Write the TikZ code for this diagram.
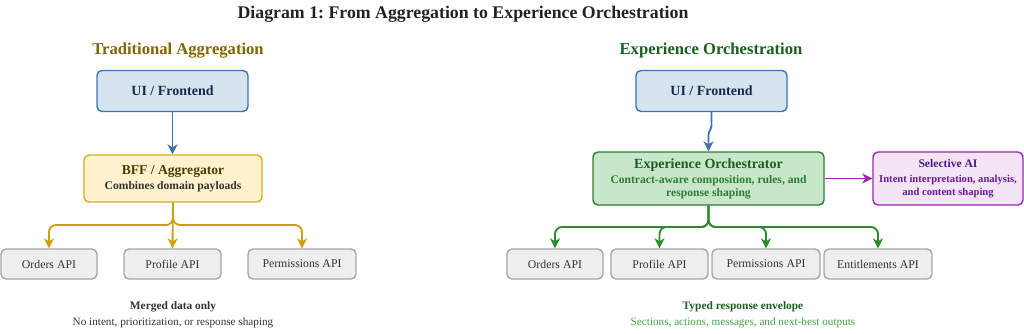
\documentclass[tikz,border=0pt]{standalone}
\usepackage{fontspec}
\setmainfont{Liberation Serif}
\usepackage{xcolor}
\usepackage{tikz}
\usetikzlibrary{arrows.meta, positioning, calc}
\definecolor{TitleInk}{RGB}{34, 34, 34}
\definecolor{OliveInk}{RGB}{128, 102, 0}
\definecolor{ForestInk}{RGB}{27, 94, 32}
\definecolor{LeafInk}{RGB}{46, 125, 50}
\definecolor{LightLeaf}{RGB}{67, 160, 71}
\definecolor{NavyInk}{RGB}{26, 42, 74}
\definecolor{UiFill}{RGB}{214, 228, 240}
\definecolor{UiLine}{RGB}{61, 115, 176}
\definecolor{BffFill}{RGB}{255, 242, 204}
\definecolor{BffLine}{RGB}{214, 174, 30}
\definecolor{BffInk}{RGB}{77, 59, 0}
\definecolor{GoldLine}{RGB}{201, 162, 15}
\definecolor{ApiFill}{RGB}{239, 239, 239}
\definecolor{ApiLine}{RGB}{166, 166, 166}
\definecolor{BodyInk}{RGB}{51, 51, 51}
\definecolor{OrchFill}{RGB}{200, 230, 201}
\definecolor{OrchLine}{RGB}{46, 125, 50}
\definecolor{GreenLine}{RGB}{47, 138, 47}
\definecolor{AiFill}{RGB}{243, 229, 245}
\definecolor{AiLine}{RGB}{156, 39, 176}
\definecolor{AiDeep}{RGB}{74, 20, 140}
\definecolor{AiInk}{RGB}{106, 27, 154}
\newcommand{\fsz}[1]{\fontsize{#1}{#1}\selectfont}
\tikzset{
  box/.style={rounded corners=5pt, line width=1.4pt, align=center, inner sep=0pt},
  uibox/.style={box, fill=UiFill, draw=UiLine, text=NavyInk,
    minimum width=151pt, minimum height=41pt, font=\fsz{14}\bfseries},
  apibox/.style={box, fill=ApiFill, draw=ApiLine, text=BodyInk,
    minimum height=30pt, font=\fsz{11.8}},
  flow/.style={line width=1.9pt, -{Stealth[length=10pt, width=10pt, inset=3pt]}},
  branch/.style={flow, rounded corners=7pt}
}
\begin{document}
\frenchspacing
\begin{tikzpicture}[x=1pt, y=-1pt]
  \useasboundingbox (0,0) rectangle (1024,333);

  % headings
  \node[text=TitleInk, font=\fsz{17.8}\bfseries] (title) at (463,14)
    {Diagram 1: From Aggregation to Experience Orchestration};
  \node[text=OliveInk, font=\fsz{16.6}\bfseries] (headL) at (178,51)
    {Traditional Aggregation};
  \node[text=ForestInk, font=\fsz{16.6}\bfseries] (headR) at (711,51)
    {Experience Orchestration};

  % traditional side
  \node[uibox] (uiL) at (172.5,91) {UI / Frontend};
  \node[box, fill=BffFill, draw=BffLine, minimum width=178pt, minimum height=47pt]
    (bff) at (173,178.5)
    {{\color{BffInk}\fsz{13.6}\bfseries BFF / Aggregator}\\[3pt]
     {\color{BodyInk}\fsz{11.6}\bfseries Combines domain payloads}};
  \node[apibox, minimum width=96pt] (ordL) at (49,264) {Orders API};
  \node[apibox, minimum width=97pt] (proL) at (172.5,264) {Profile API};
  \node[apibox, minimum width=108pt] (perL) at (302,264) {Permissions API};
  \coordinate (forkL) at (173,225);

  \draw[flow, UiLine] (uiL.south) -- (uiL.south |- bff.north);
  \draw[branch, GoldLine] (bff.south) -- (forkL) -| (ordL.north);
  \draw[branch, GoldLine] (bff.south) -- (proL.north);
  \draw[branch, GoldLine] (bff.south) -- (forkL) -| (perL.north);

  \node[text=BodyInk, font=\fsz{11.4}\bfseries] (noteL) at (173,307) {Merged data only};
  \node[text=BodyInk, font=\fsz{11.2}] (subL) at (173,323)
    {No intent, prioritization, or response shaping};

  % orchestration side
  \node[uibox] (uiR) at (711.5,91) {UI / Frontend};
  \node[box, fill=OrchFill, draw=OrchLine, minimum width=231pt, minimum height=53pt]
    (orch) at (708.5,178.5)
    {{\color{ForestInk}\fsz{14}\bfseries Experience Orchestrator}\\[3pt]
     {\color{LeafInk}\fsz{11.6}\bfseries Contract-aware composition, rules, and}\\[1pt]
     {\color{LeafInk}\fsz{11.6}\bfseries response shaping}};
  \node[box, fill=AiFill, draw=AiLine, minimum width=150pt, minimum height=53pt]
    (ai) at (948,178.5)
    {{\color{AiDeep}\fsz{11.6}\bfseries Selective AI}\\[3pt]
     {\color{AiInk}\fsz{10.6}\bfseries Intent interpretation, analysis,}\\[1pt]
     {\color{AiInk}\fsz{10.6}\bfseries and content shaping}};
  \node[apibox, minimum width=96pt] (ordR) at (555,264) {Orders API};
  \node[apibox, minimum width=97pt] (proR) at (659.5,264) {Profile API};
  \node[apibox, minimum width=108pt] (perR) at (766,264) {Permissions API};
  \node[apibox, minimum width=108pt] (entR) at (878,264) {Entitlements API};
  \coordinate (forkR) at (708.5,227);

  \draw[flow, UiLine, rounded corners=2pt] (uiR.south) -- ++(0,16) -- ++(-3,4)
    -- (orch.north);
  \draw[flow, AiLine] (orch.east) -- (ai.west);
  \foreach \api in {ordR, proR, perR, entR}
    \draw[branch, GreenLine] (orch.south) -- (forkR) -| (\api.north);

  \node[text=ForestInk, font=\fsz{11.4}\bfseries] (noteR) at (743,307) {Typed response envelope};
  \node[text=LightLeaf, font=\fsz{11.2}] (subR) at (743,323)
    {Sections, actions, messages, and next-best outputs};
\end{tikzpicture}
\end{document}
